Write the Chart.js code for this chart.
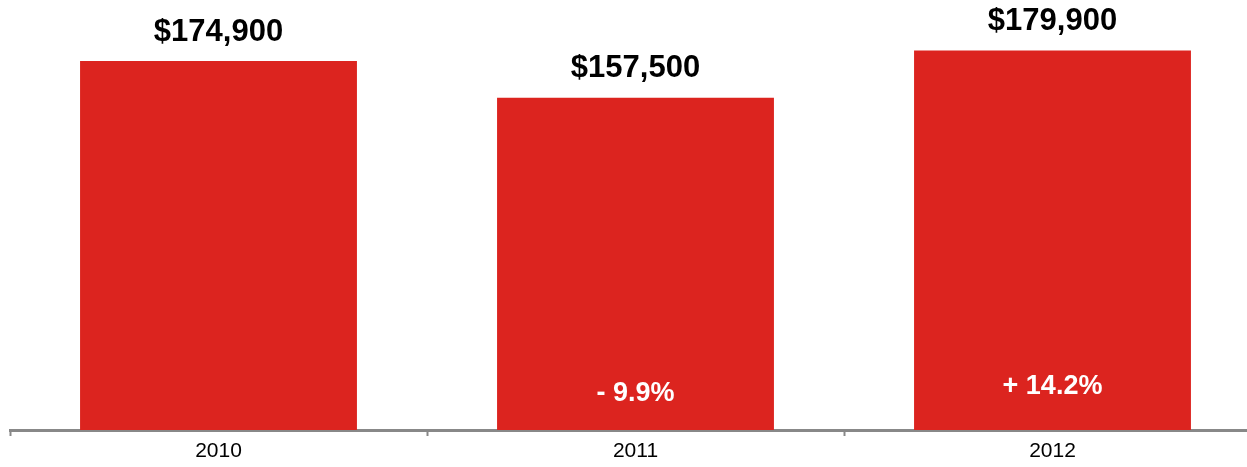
<!DOCTYPE html>
<html>
<head>
<meta charset="utf-8">
<script src="https://cdn.jsdelivr.net/npm/chart.js@4.4.1/dist/chart.umd.min.js"></script>
<style>
  html, body { margin: 0; padding: 0; background: #fff; overflow: hidden; }
  #wrap { position: absolute; left: 0; top: 0; width: 1261px; height: 467px; }
</style>
</head>
<body>
<div id="wrap"><canvas id="chart"></canvas></div>
<script>
// chart data
var years = ['2010', '2011', '2012'];
var prices = [174900, 157500, 179900];
var changes = ['', '- 9.9%', '+ 14.2%'];

var barRed = '#dc241f';

// draws the price above each bar and the change inside it
var labelPlugin = {
    id: 'barLabels',
    afterDatasetsDraw: function(chart) {
        var ctx = chart.ctx;
        var meta = chart.getDatasetMeta(0);
        var bottom = chart.chartArea.bottom;
        ctx.save();
        ctx.textAlign = 'center';
        ctx.textBaseline = 'middle';
        meta.data.forEach(function(bar, i) {
            ctx.fillStyle = '#000';
            ctx.font = 'bold 31px "Liberation Sans", Arial, sans-serif';
            ctx.fillText('$' + prices[i].toLocaleString('en-US'), bar.x, bar.y - 29);
            if (changes[i]) {
                ctx.fillStyle = '#fff';
                ctx.font = 'bold 27px "Liberation Sans", Arial, sans-serif';
                var off = i === 1 ? 36 : 43;
                ctx.fillText(changes[i], bar.x, bottom - off);
            }
        });
        ctx.restore();
    }
};

var ctx = document.getElementById('chart').getContext('2d');
var myChart = new Chart(ctx, {
    type: 'bar',
    data: {
        labels: years,
        datasets: [{
            data: prices,
            backgroundColor: barRed,
            borderWidth: 0,
            categoryPercentage: 1,
            barPercentage: 0.664
        }]
    },
    options: {
        responsive: true,
        maintainAspectRatio: false,
        animation: false,
        layout: { padding: { left: 10, right: 0, top: 0, bottom: 0 } },
        plugins: {
            legend: { display: false },
            tooltip: { enabled: false }
        },
        scales: {
            x: {
                offset: true,
                border: { display: true, color: '#888', width: 3 },
                grid: {
                    display: true,
                    offset: true,
                    drawOnChartArea: false,
                    drawTicks: true,
                    tickLength: 6,
                    tickWidth: 2,
                    tickColor: '#888'
                },
                ticks: {
                    color: '#000',
                    padding: 5,
                    font: { family: '"Liberation Sans", Arial, sans-serif', size: 21, lineHeight: 1 }
                }
            },
            y: {
                display: false,
                min: 0,
                max: 203800
            }
        }
    },
    plugins: [labelPlugin]
});
</script>
</body>
</html>
